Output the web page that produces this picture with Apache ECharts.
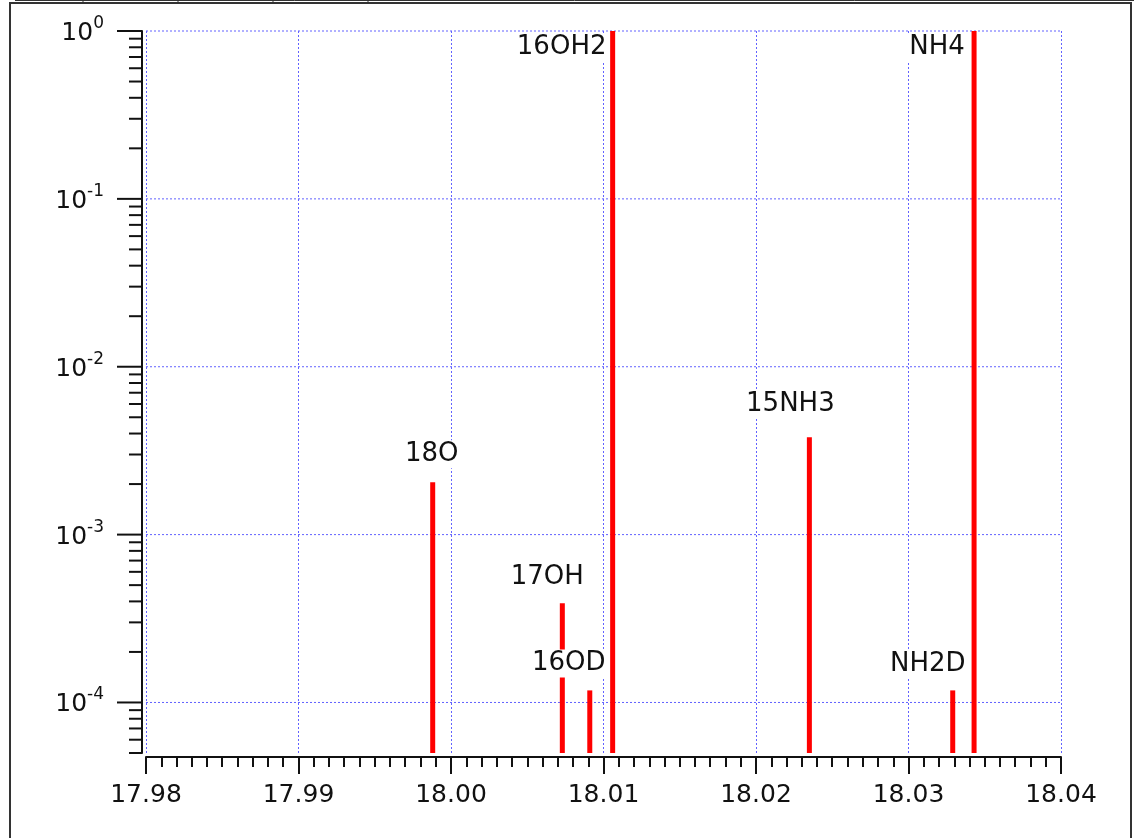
<!DOCTYPE html>
<html>
<head>
<meta charset="utf-8">
<title>Peaks near mass 18</title>
<script src="https://cdn.jsdelivr.net/npm/echarts@6/dist/echarts.min.js"></script>
<style>
  html, body { margin: 0; padding: 0; background: #fff; }
  #main { width: 1134px; height: 838px; }
</style>
</head>
<body>
<div id="main"></div>
<script>
  // peaks: name, mass, relative abundance
  const names = ['18O', '17OH', '16OD', '16OH2', '15NH3', 'NH2D', 'NH4'];
  const masses = [17.9988, 18.0073, 18.0091, 18.0106, 18.0235, 18.0329, 18.0343];
  const abundances = [2.05e-3, 3.9e-4, 1.18e-4, 1, 3.8e-3, 1.18e-4, 1];

  // axes
  const xTicks = [17.98, 17.99, 18.00, 18.01, 18.02, 18.03, 18.04];
  const yRange = [5e-5, 1];
  const decades = [1e-4, 1e-3, 1e-2, 1e-1, 1];
  const minorTicks = [
    5e-5, 6e-5, 7e-5, 8e-5, 9e-5,
    2e-4, 3e-4, 4e-4, 5e-4, 6e-4, 7e-4, 8e-4, 9e-4,
    2e-3, 3e-3, 4e-3, 5e-3, 6e-3, 7e-3, 8e-3, 9e-3,
    2e-2, 3e-2, 4e-2, 5e-2, 6e-2, 7e-2, 8e-2, 9e-2,
    2e-1, 3e-1, 4e-1, 5e-1, 6e-1, 7e-1, 8e-1, 9e-1
  ];

  // label placement relative to the top of each stem (px)
  const labelDx = [-1, -15, -21, -51, -19, -25, -37];
  const labelDy = [-28, -26, -27, 16, -33, -26, 16];

  const xMin = xTicks[0];
  const xMax = xTicks[xTicks.length - 1];
  const axisColor = '#111';
  const gridColor = '#6262ff';
  const font = '"DejaVu Sans", sans-serif';
  const axisGap = 4; // axes sit a few px off the plot box

  const chart = echarts.init(document.getElementById('main'));

  function renderDecade(params, api) {
    const p = api.coord([xMin, api.value(1)]);
    const q = api.coord([xMax, api.value(1)]);
    return {
      type: 'group',
      children: [
        { type: 'line', shape: { x1: p[0], y1: p[1], x2: q[0], y2: q[1] },
          style: { stroke: gridColor, lineWidth: 1, lineDash: [2, 2] } },
        { type: 'line', shape: { x1: p[0] - axisGap - 25, y1: p[1], x2: p[0] - axisGap, y2: p[1] },
          style: { stroke: axisColor, lineWidth: 2 } }
      ]
    };
  }

  function renderMinor(params, api) {
    const p = api.coord([xMin, api.value(1)]);
    return {
      type: 'line',
      shape: { x1: p[0] - axisGap - 13, y1: p[1], x2: p[0] - axisGap, y2: p[1] },
      style: { stroke: axisColor, lineWidth: 2 }
    };
  }

  function renderStem(params, api) {
    const i = params.dataIndex;
    const top = api.coord([api.value(0), api.value(1)]);
    const base = api.coord([api.value(0), yRange[0]]);
    return {
      type: 'group',
      children: [
        { type: 'line', shape: { x1: top[0], y1: base[1], x2: top[0], y2: top[1] },
          style: { stroke: '#ff0000', lineWidth: 5 } },
        { type: 'text', x: top[0] + labelDx[i], y: top[1] + labelDy[i],
          style: {
            text: names[i], fill: axisColor, fontSize: 26, fontFamily: font,
            align: 'center', verticalAlign: 'middle',
            backgroundColor: '#fff', padding: [1, 2]
          } }
      ]
    };
  }

  const option = {
    animation: false,
    backgroundColor: '#fff',
    grid: { left: 146, right: 73, top: 31, bottom: 85 },
    graphic: [
      { type: 'rect', shape: { x: 10, y: 3, width: 1121, height: 840 },
        style: { fill: 'none', stroke: '#333', lineWidth: 2 } },
      { type: 'line', shape: { x1: 15, y1: 0.5, x2: 1134, y2: 0.5 }, style: { stroke: '#333', lineWidth: 1 } },
      { type: 'line', shape: { x1: 83, y1: 0, x2: 83, y2: 3 }, style: { stroke: '#333', lineWidth: 1 } },
      { type: 'line', shape: { x1: 178, y1: 0, x2: 178, y2: 3 }, style: { stroke: '#333', lineWidth: 1 } },
      { type: 'line', shape: { x1: 273, y1: 0, x2: 273, y2: 3 }, style: { stroke: '#333', lineWidth: 1 } },
      { type: 'line', shape: { x1: 368, y1: 0, x2: 368, y2: 3 }, style: { stroke: '#333', lineWidth: 1 } }
    ],
    xAxis: {
      type: 'value',
      min: xMin,
      max: xMax,
      interval: 0.01,
      offset: axisGap,
      axisLine: { show: true, lineStyle: { color: axisColor, width: 2 } },
      axisTick: { show: true, length: 17, lineStyle: { color: axisColor, width: 2 } },
      minorTick: { show: true, splitNumber: 10, length: 10, lineStyle: { color: axisColor, width: 2 } },
      axisLabel: {
        margin: 26, color: axisColor, fontSize: 25, fontFamily: font,
        formatter: v => v.toFixed(2)
      },
      splitLine: { show: true, lineStyle: { color: gridColor, width: 1, type: [2, 2] } }
    },
    yAxis: {
      type: 'log',
      min: yRange[0],
      max: yRange[1],
      offset: axisGap,
      axisLine: { show: true, lineStyle: { color: axisColor, width: 2 } },
      axisTick: { show: false },
      splitLine: { show: false },
      axisLabel: {
        margin: 38,
        formatter: function (v) {
          const e = Math.log10(v);
          if (Math.abs(e - Math.round(e)) > 1e-6) return '';
          return '{b|10}{s|' + Math.round(e) + '}';
        },
        rich: {
          b: { fontSize: 25, fontFamily: font, color: axisColor, lineHeight: 32, padding: [5, 0, 0, 0] },
          s: { fontSize: 17, fontFamily: font, color: axisColor, lineHeight: 17, verticalAlign: 'top' }
        }
      }
    },
    series: [
      {
        type: 'custom', z: 1, clip: false, silent: true,
        renderItem: renderDecade,
        data: decades.map(v => [xMin, v])
      },
      {
        type: 'custom', z: 1, clip: false, silent: true,
        renderItem: renderMinor,
        data: minorTicks.map(v => [xMin, v])
      },
      {
        type: 'custom', z: 3, clip: false, silent: true,
        renderItem: renderStem,
        data: masses.map((m, i) => [m, abundances[i]])
      }
    ]
  };

  chart.setOption(option);
  window.addEventListener('resize', () => chart.resize());
</script>
</body>
</html>
